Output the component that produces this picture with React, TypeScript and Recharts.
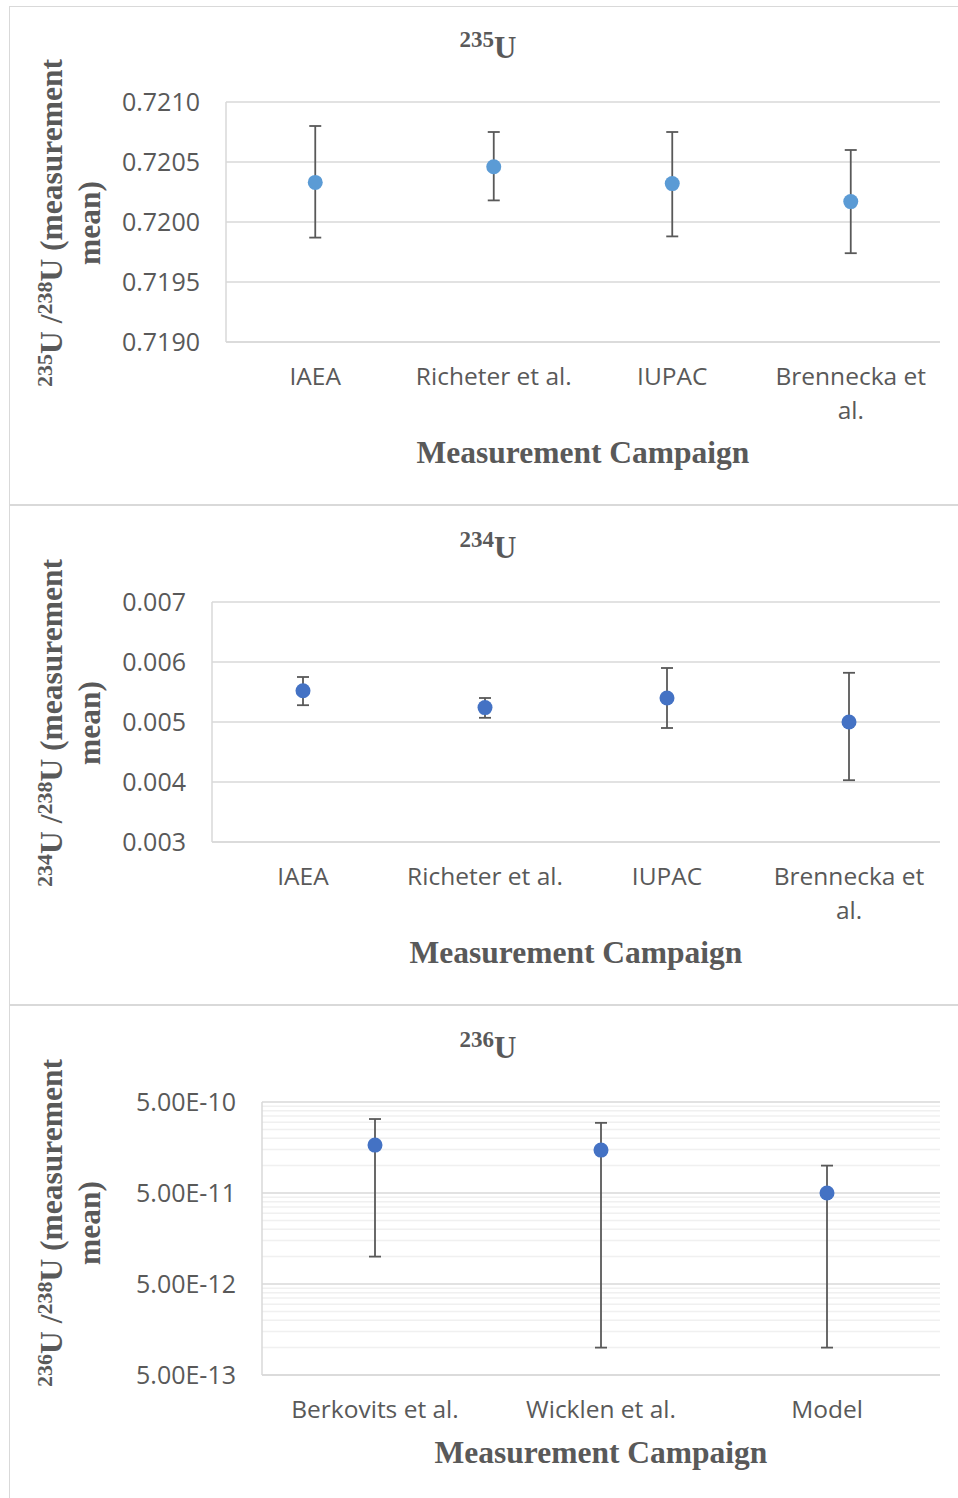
import React from "react";
import {
  CartesianGrid,
  ComposedChart,
  ErrorBar,
  Line,
  ReferenceLine,
  XAxis,
  YAxis,
} from "recharts";

// campaigns and ratio means with lower/upper error limits
const campaigns = ["IAEA", "Richeter et al.", "IUPAC", "Brennecka et al."];
const u235Mean = [0.72033, 0.72046, 0.72032, 0.72017];
const u235Low = [0.71987, 0.72018, 0.71988, 0.71974];
const u235High = [0.7208, 0.72075, 0.72075, 0.7206];
const u235Ticks = [0.719, 0.7195, 0.72, 0.7205, 0.721];

const u234Mean = [0.00552, 0.00524, 0.0054, 0.005];
const u234Low = [0.00528, 0.00507, 0.0049, 0.00403];
const u234High = [0.00575, 0.0054, 0.0059, 0.00582];
const u234Ticks = [0.003, 0.004, 0.005, 0.006, 0.007];

const campaigns236 = ["Berkovits et al.", "Wicklen et al.", "Model"];
const u236Mean = [1.68e-10, 1.48e-10, 5.0e-11];
const u236Low = [1.0e-11, 1.0e-12, 1.0e-12];
const u236High = [3.25e-10, 2.95e-10, 1.0e-10];
const u236Ticks = [5e-13, 5e-12, 5e-11, 5e-10];
const minorSteps = [2, 3, 4, 5, 6, 7, 8, 9];

const TEXT = "#595959";
const GRID = "#d9d9d9";
const MINOR = "#f0f0f0";
const SANS = "'Open Sans', sans-serif";
const SERIF = "'Liberation Serif', serif";
const TICK_SIZE = 24.5;

type Row = { name: string; mean: number; low: number; high: number };

const toRows = (names: string[], mean: number[], low: number[], high: number[]): Row[] =>
  names.map((name, i) => ({ name, mean: mean[i], low: low[i], high: high[i] }));

const errorDelta = (d: Row) => [d.mean - d.low, d.high - d.mean];

// log minor gridlines: 2..9 times the start of every decade
const u236Minor = u236Ticks.slice(0, -1).flatMap((t) => minorSteps.map((k) => t * k));

// greedy word wrap measured with a canvas context
let measureCtx: CanvasRenderingContext2D | null = null;
function wrapWords(text: string, maxWidth: number): string[] {
  if (!measureCtx) measureCtx = document.createElement("canvas").getContext("2d");
  const ctx = measureCtx!;
  ctx.font = `${TICK_SIZE}px 'Open Sans'`;
  const lines: string[] = [];
  let cur = "";
  for (const w of text.split(" ")) {
    const next = cur ? `${cur} ${w}` : w;
    if (cur && ctx.measureText(next).width > maxWidth) {
      lines.push(cur);
      cur = w;
    } else {
      cur = next;
    }
  }
  if (cur) lines.push(cur);
  return lines;
}

function CategoryTick(props: any) {
  const { x, y, payload, wrapWidth } = props;
  const lines = wrapWords(String(payload.value), wrapWidth);
  return (
    <text
      x={x}
      y={y + 43}
      textAnchor="middle"
      fill={TEXT}
      fontSize={TICK_SIZE}
      fontFamily={SANS}
    >
      {lines.map((l, i) => (
        <tspan key={i} x={x} dy={i === 0 ? 0 : 34}>
          {l}
        </tspan>
      ))}
    </text>
  );
}

const yTitle = (iso: string) => () => (
  <g fill={TEXT} fontFamily={SERIF} fontWeight="bold">
    <text x={62} y={223} transform="rotate(-90 62 223)" textAnchor="middle" fontSize={31.5}>
      <tspan fontSize={22} dy={-10.5}>{iso}</tspan>
      <tspan dy={10.5}>U /</tspan>
      <tspan fontSize={22} dy={-10.5}>238</tspan>
      <tspan dy={10.5}>U (measurement</tspan>
    </text>
    <text x={100} y={223} transform="rotate(-90 100 223)" textAnchor="middle" fontSize={31.5}>
      mean)
    </text>
  </g>
);

const xTitle = (iso: string) => (p: any) => {
  const vb = p.viewBox;
  return (
    <g fill={TEXT} fontFamily={SERIF} fontWeight="bold">
      <text x={488} y={58} textAnchor="middle" fontSize={31}>
        <tspan fontSize={23} dy={-11}>{iso}</tspan>
        <tspan dy={11}>U</tspan>
      </text>
      <text x={vb.x + vb.width / 2} y={463} textAnchor="middle" fontSize={31.5}>
        Measurement Campaign
      </text>
    </g>
  );
};

interface PanelProps {
  top: number;
  height: number;
  plotLeft: number;
  plotBottom: number;
  wrapWidth: number;
  iso: string;
  data: Row[];
  color: string;
  yAxis: any;
  minor?: number[];
}

function Panel({
  top,
  height,
  plotLeft,
  plotBottom,
  wrapWidth,
  iso,
  data,
  color,
  yAxis,
  minor = [],
}: PanelProps) {
  return (
    <div style={{ position: "absolute", left: 0, top, width: 958, height }}>
      <ComposedChart
        width={958}
        height={height}
        data={data}
        margin={{ top: 102, right: 18, left: 0, bottom: 0 }}
      >
        {minor.map((v) => (
          <ReferenceLine key={v} y={v} stroke={MINOR} strokeWidth={1.5} />
        ))}
        <CartesianGrid vertical={false} stroke={GRID} strokeWidth={1.5} />
        <XAxis
          dataKey="name"
          scale="band"
          interval={0}
          height={height - plotBottom}
          axisLine={{ stroke: GRID, strokeWidth: 1.5 }}
          tickLine={false}
          tickSize={0}
          tickMargin={0}
          tick={(p: any) => <CategoryTick {...p} wrapWidth={wrapWidth} />}
          label={{ content: xTitle(iso) } as any}
        />
        <YAxis
          width={plotLeft}
          axisLine={{ stroke: GRID, strokeWidth: 1.5 }}
          tickLine={false}
          tickSize={0}
          tickMargin={26}
          tick={{ fill: TEXT, fontSize: 25, fontFamily: SANS }}
          label={{ content: yTitle(iso) } as any}
          {...yAxis}
        />
        <Line
          dataKey="mean"
          stroke="none"
          dot={{ r: 7.5, fill: color, stroke: "none" }}
          activeDot={false}
          isAnimationActive={false}
        >
          <ErrorBar
            dataKey={errorDelta as any}
            width={6}
            stroke="#595959"
            strokeWidth={1.8}
            direction="y"
            isAnimationActive={false}
          />
        </Line>
      </ComposedChart>
    </div>
  );
}

const boxStyle = (top: number, height: number): React.CSSProperties => ({
  position: "absolute",
  left: 9,
  top,
  width: 960,
  height,
  border: `1px solid ${GRID}`,
  boxSizing: "border-box",
});

export default function App() {
  return (
    <div
      style={{
        position: "absolute",
        left: 0,
        top: 0,
        width: 958,
        height: 1498,
        overflow: "hidden",
        background: "#fff",
      }}
    >
      <div style={boxStyle(6, 499)} />
      <div style={boxStyle(505, 500)} />
      <div style={boxStyle(1005, 500)} />

      <Panel
        top={0}
        height={500}
        plotLeft={226}
        plotBottom={342}
        wrapWidth={160}
        iso="235"
        color="#5B9BD5"
        data={toRows(campaigns, u235Mean, u235Low, u235High)}
        yAxis={{
          domain: [0.719, 0.721],
          ticks: u235Ticks,
          tickFormatter: (v: number) => v.toFixed(4),
        }}
      />
      <Panel
        top={500}
        height={500}
        plotLeft={212}
        plotBottom={342}
        wrapWidth={160}
        iso="234"
        color="#4472C4"
        data={toRows(campaigns, u234Mean, u234Low, u234High)}
        yAxis={{
          domain: [0.003, 0.007],
          ticks: u234Ticks,
          tickFormatter: (v: number) => v.toFixed(3),
        }}
      />
      <Panel
        top={1000}
        height={498}
        plotLeft={262}
        plotBottom={375}
        wrapWidth={210}
        iso="236"
        color="#4472C4"
        minor={u236Minor}
        data={toRows(campaigns236, u236Mean, u236Low, u236High)}
        yAxis={{
          scale: "log",
          domain: [5e-13, 5e-10],
          ticks: u236Ticks,
          allowDataOverflow: true,
          tickFormatter: (v: number) => v.toExponential(2).toUpperCase(),
        }}
      />
    </div>
  );
}
